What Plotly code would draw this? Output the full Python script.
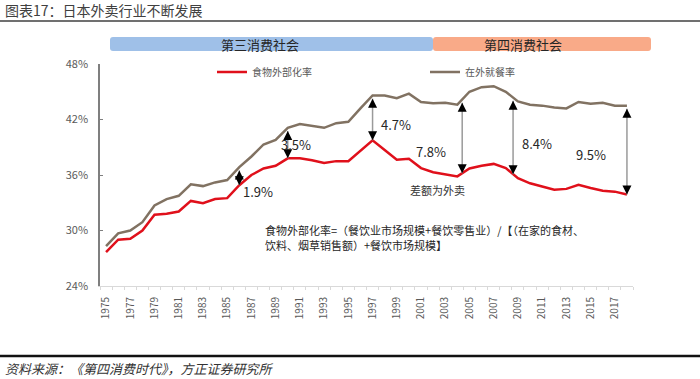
import plotly.graph_objects as go
import numpy as np

# ---------------- data ----------------
years = list(range(1975, 2019))
food_ext_rate = [27.65, 29.0, 29.1, 30.0, 31.7, 31.8, 32.05, 33.2, 32.95, 33.4,
                 33.5, 34.9, 36.0, 36.7, 37.0, 37.8, 37.8, 37.6, 37.3, 37.5, 37.5, 38.6,
                 39.75, 38.7, 37.65, 37.75, 36.75, 36.3, 36.1, 35.85, 36.7, 37.0, 37.2,
                 36.75, 35.65, 35.1, 34.75, 34.4, 34.5, 34.95, 34.6, 34.3, 34.2, 33.9]
eat_out_rate = [28.3, 29.7, 30.0, 30.9, 32.7, 33.4, 33.75, 35.0, 34.8, 35.2,
                35.45, 36.85, 38.0, 39.3, 39.8, 41.1, 41.5, 41.3, 41.1, 41.6, 41.75, 43.2,
                44.6, 44.6, 44.3, 44.8, 43.9, 43.75, 43.8, 43.6, 45.0, 45.5, 45.6,
                45.0, 43.95, 43.6, 43.5, 43.3, 43.2, 43.9, 43.7, 43.8, 43.5, 43.5]
tick_years = list(range(1975, 2018, 2))
tick_labels = [str(y) for y in tick_years]
gap_years = [1986, 1990, 1997, 2004.4, 2008.6, 2018]
gap_labels = ["1.9%", "3.5%", "4.7%", "7.8%", "8.4%", "9.5%"]
era_names = ["第三消费社会", "第四消费社会"]
series_names = ["食物外部化率", "在外就餐率"]
formula_lines = ["食物外部化率=（餐饮业市场规模+餐饮零售业）/【（在家的食材、",
                 "饮料、烟草销售额）+餐饮市场规模】"]

# ---------------- layout helpers ----------------
W, H = 700, 379
L, R, T, B = 100, 67, 64, 93
PW, PH = W - L - R, H - T - B

def px(x):
    return (x - L) / PW

def py(y):
    return (H - B - y) / PH

FONT = "Noto Sans CJK SC, Noto Sans, sans-serif"
RED = "#E0101B"
BROWN = "#817262"

fig = go.Figure()
fig.add_trace(go.Scatter(x=years, y=food_ext_rate, mode="lines", name=series_names[0],
                         line=dict(color=RED, width=2.5), legend="legend", showlegend=True))
fig.add_trace(go.Scatter(x=years, y=eat_out_rate, mode="lines", name=series_names[1],
                         line=dict(color=BROWN, width=2.5), legend="legend2", showlegend=True))

shapes = []
annotations = []

# gap arrows
for xv, lab in zip(gap_years, gap_labels):
    top = float(np.interp(xv, years, eat_out_rate)) - 0.35
    bot = float(np.interp(xv, years, food_ext_rate))
    shapes.append(dict(type="line", xref="x", yref="y", x0=xv, x1=xv, y0=bot, y1=top,
                       line=dict(color="#9A9A9A", width=1.5)))
    annotations.append(dict(x=xv, y=top, xref="x", yref="y", ax=0, ay=8, text="",
                            showarrow=True, arrowhead=2, arrowsize=1.5, arrowwidth=1.2,
                            arrowcolor="#000000"))
    annotations.append(dict(x=xv, y=bot, xref="x", yref="y", ax=0, ay=-8, text="",
                            showarrow=True, arrowhead=2, arrowsize=1.5, arrowwidth=1.2,
                            arrowcolor="#000000"))

label_pos = [(1987.55, 34.2), (1990.66, 39.27), (1998.93, 41.43),
             (2001.83, 38.54), (2010.54, 39.45), (2015.0, 38.18)]
for (lx, ly), lab in zip(label_pos, gap_labels):
    annotations.append(dict(x=lx, y=ly, xref="x", yref="y", text=lab, showarrow=False,
                            xanchor="center", yanchor="middle",
                            font=dict(family=FONT, size=13, color="#262626")))

annotations.append(dict(x=2002.33, y=34.4, xref="x", yref="y", text="差额为外卖",
                        xanchor="center", yanchor="middle",
                        showarrow=False, font=dict(family=FONT, size=11, color="#333333")))

for line_text, ly in zip(formula_lines, [229.5, 245]):
    annotations.append(dict(x=px(263), y=py(ly), xref="paper", yref="paper", xanchor="left",
                            yanchor="middle", align="left", showarrow=False, text=line_text,
                            font=dict(family=FONT, size=11, color="#262626")))

# era bars
def rounded_rect(x0, x1, y0, y1, r=3):
    X0, X1 = px(x0), px(x1)
    Y0, Y1 = py(y1), py(y0)  # bottom, top in paper
    rx, ry = r / PW, r / PH
    return (f"M{X0+rx},{Y1} L{X1-rx},{Y1} Q{X1},{Y1} {X1},{Y1-ry} "
            f"L{X1},{Y0+ry} Q{X1},{Y0} {X1-rx},{Y0} L{X0+rx},{Y0} "
            f"Q{X0},{Y0} {X0},{Y0+ry} L{X0},{Y1-ry} Q{X0},{Y1} {X0+rx},{Y1} Z")

shapes.append(dict(type="path", xref="paper", yref="paper", path=rounded_rect(110, 433, 37, 51),
                   fillcolor="#9FC0E8", line=dict(width=0)))
shapes.append(dict(type="path", xref="paper", yref="paper", path=rounded_rect(433, 651, 37, 51),
                   fillcolor="#F9AA88", line=dict(width=0)))
annotations.append(dict(x=px(260), y=py(44), xref="paper", yref="paper", text=era_names[0],
                        xanchor="center", yanchor="middle",
                        showarrow=False, font=dict(family=FONT, size=13, color="#262626")))
annotations.append(dict(x=px(523), y=py(44), xref="paper", yref="paper", text=era_names[1],
                        xanchor="center", yanchor="middle",
                        showarrow=False, font=dict(family=FONT, size=13, color="#262626")))

# title, rules, source
annotations.append(dict(x=px(3), y=py(10), xref="paper", yref="paper", xanchor="left",
                        yanchor="middle", showarrow=False, text="图表17：日本外卖行业不断发展",
                        font=dict(family=FONT, size=14, color="#404040")))
shapes.append(dict(type="line", xref="paper", yref="paper", x0=px(0), x1=px(700),
                   y0=py(21), y1=py(21), line=dict(color="#404040", width=1.5)))
shapes.append(dict(type="line", xref="paper", yref="paper", x0=px(0), x1=px(700),
                   y0=py(356), y1=py(356), line=dict(color="#111111", width=2.5)))
annotations.append(dict(x=px(3), y=py(368), xref="paper", yref="paper", xanchor="left",
                        yanchor="middle", showarrow=False,
                        text="<i>资料来源：《第四消费时代》，方正证券研究所</i>",
                        font=dict(family=FONT, size=13, color="#333333")))

fig.update_layout(
    width=W, height=H,
    margin=dict(l=L, r=R, t=T, b=B, pad=0),
    paper_bgcolor="white", plot_bgcolor="white",
    font=dict(family=FONT, color="#595959"),
    showlegend=True,
    shapes=shapes, annotations=annotations,
    legend=dict(x=px(212), y=py(72), xanchor="left", yanchor="middle", orientation="h",
                bgcolor="rgba(0,0,0,0)", font=dict(family=FONT, size=10, color="#595959")),
    legend2=dict(x=px(425), y=py(72), xanchor="left", yanchor="middle", orientation="h",
                 bgcolor="rgba(0,0,0,0)", font=dict(family=FONT, size=10, color="#595959")),
    xaxis=dict(range=[1974.5, 2018.5], tickmode="array", tickvals=tick_years,
               ticktext=tick_labels, tickangle=-90, showgrid=False, zeroline=False,
               showline=True, linecolor="#D9D9D9", linewidth=1, ticks="",
               ticklabelstandoff=6,
               minor=dict(ticks="outside", ticklen=3, tick0=1974.5, dtick=1,
                          tickcolor="#D9D9D9", showgrid=False),
               tickfont=dict(family=FONT, size=10, color="#595959")),
    yaxis=dict(range=[24, 48], tickmode="linear", tick0=24, dtick=6, ticksuffix="%",
               showgrid=False, zeroline=False, showline=True, linecolor="#7F7F7F",
               linewidth=1.5, ticks="inside", ticklen=3, tickcolor="#7F7F7F",
               ticklabelstandoff=8,
               tickfont=dict(family=FONT, size=11, color="#595959")),
)

fig.write_html("out.html", config={"displayModeBar": False},
               post_script="document.body.style.margin='0';")
